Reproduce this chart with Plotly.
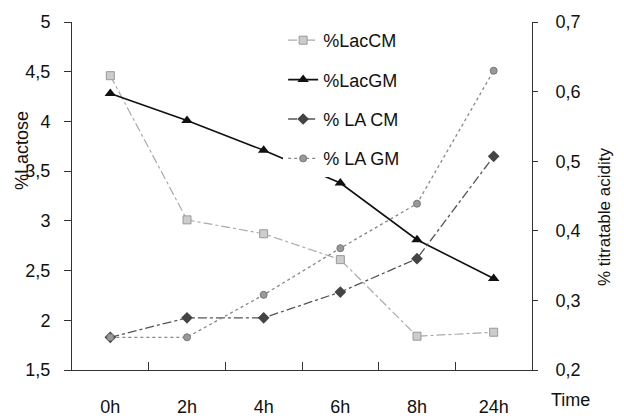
import plotly.graph_objects as go

categories = ["0h", "2h", "4h", "6h", "8h", "24h"]
lac_cm = [4.46, 3.01, 2.87, 2.61, 1.84, 1.88]
lac_gm = [4.28, 4.01, 3.71, 3.38, 2.81, 2.42]
la_cm = [0.247, 0.275, 0.275, 0.312, 0.36, 0.507]
la_gm = [0.247, 0.247, 0.308, 0.375, 0.439, 0.63]

left_ticks = [1.5, 2, 2.5, 3, 3.5, 4, 4.5, 5]
left_labels = ["1,5", "2", "2,5", "3", "3,5", "4", "4,5", "5"]
right_ticks = [0.2, 0.3, 0.4, 0.5, 0.6, 0.7]
right_labels = ["0,2", "0,3", "0,4", "0,5", "0,6", "0,7"]

FONT = "Liberation Sans, Arial, sans-serif"

fig = go.Figure()
fig.add_trace(go.Scatter(
    x=categories, y=lac_cm, name="%LacCM", yaxis="y", legendgroup="a",
    mode="lines+markers",
    line=dict(color="#aaaaaa", width=1.2, dash="dashdot"),
    marker=dict(symbol="square", size=8, color="#cccccc", line=dict(color="#999999", width=1))))
fig.add_trace(go.Scatter(
    x=categories, y=lac_gm, name="%LacGM", yaxis="y", legendgroup="b",
    mode="lines+markers",
    line=dict(color="#111111", width=1.6),
    marker=dict(symbol="triangle-up", size=10, color="#111111")))
fig.add_trace(go.Scatter(
    x=categories, y=la_cm, name="% LA CM", yaxis="y2", legendgroup="c",
    mode="lines+markers",
    line=dict(color="#555555", width=1.3, dash="dashdot"),
    marker=dict(symbol="diamond", size=9, color="#444444")))
fig.add_trace(go.Scatter(
    x=categories, y=la_gm, name="% LA GM", yaxis="y2", legendgroup="d",
    mode="lines+markers",
    line=dict(color="#888888", width=1.3, dash="dot"),
    marker=dict(symbol="circle", size=7, color="#999999", line=dict(color="#777777", width=1))))

# page body has an 8px margin, so the figure is sized/offset to compensate
fig.update_layout(
    width=616, height=411,
    margin=dict(l=64, r=92, t=14, b=49),
    paper_bgcolor="white", plot_bgcolor="white",
    font=dict(family=FONT, size=18, color="#111111"),
    showlegend=True,
    legend=dict(x=0.459, y=1.0, xanchor="left", yanchor="top",
                bgcolor="white", borderwidth=0,
                font=dict(family=FONT, size=18, color="#111111"),
                tracegroupgap=13, traceorder="grouped"),
    xaxis=dict(type="category", categoryorder="array", categoryarray=categories,
               range=[-0.5, 5.5], showline=True, linecolor="#333333", linewidth=1,
               ticks="inside", tickson="boundaries", ticklen=8, tickcolor="#333333",
               showgrid=False, zeroline=False, ticklabelstandoff=20, automargin=False),
    yaxis=dict(range=[1.5, 5], tickvals=left_ticks, ticktext=left_labels,
               showline=True, linecolor="#333333", linewidth=1,
               ticks="outside", ticklen=7, tickcolor="#333333",
               showgrid=False, zeroline=False, ticklabelstandoff=10, automargin=False),
    yaxis2=dict(range=[0.2, 0.7], tickvals=right_ticks, ticktext=right_labels,
                overlaying="y", side="right", anchor="x",
                showline=True, linecolor="#333333", linewidth=1,
                ticks="outside", ticklen=5, tickcolor="#333333",
                showgrid=False, zeroline=False, ticklabelstandoff=14, automargin=False),
    annotations=[
        dict(text="%Lactose", xref="paper", yref="paper", x=-0.109, y=0.632,
             xanchor="center", yanchor="middle",
             textangle=-90, showarrow=False, font=dict(size=18)),
        dict(text="% titratable acidity", xref="paper", yref="paper", x=1.159, y=0.44,
             xanchor="center", yanchor="middle",
             textangle=-90, showarrow=False, font=dict(size=17)),
        dict(text="Time", xref="paper", yref="paper", x=1.083, y=-0.086,
             xanchor="center", yanchor="middle",
             showarrow=False, font=dict(size=18)),
    ],
)

fig.write_html("out.html")
